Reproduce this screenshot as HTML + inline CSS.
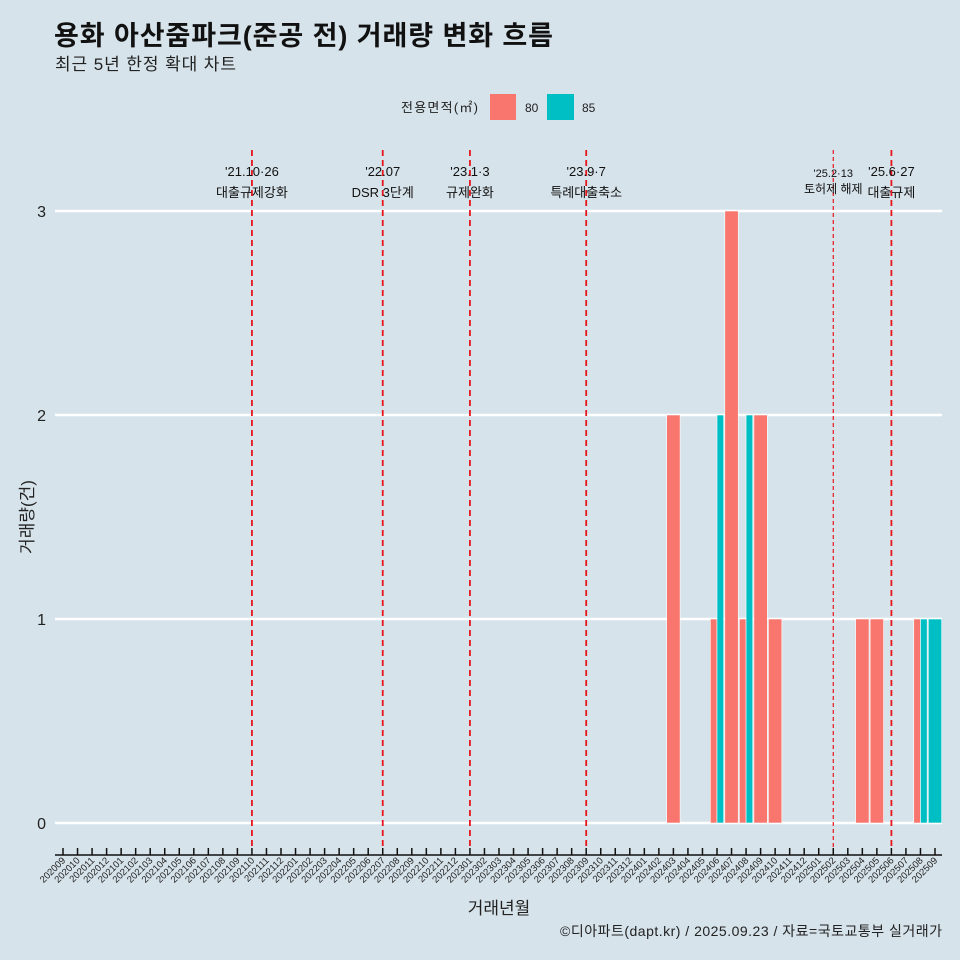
<!DOCTYPE html>
<html><head><meta charset="utf-8"><style>
body{margin:0;background:#d6e3ea;}
svg{display:block;font-family:"Liberation Sans","Noto Sans CJK KR",sans-serif;}
</style></head><body>
<svg id="c" width="960" height="960" viewBox="0 0 960 960">
<rect width="960" height="960" fill="#d6e3ea"/>
<text x="54" y="45" font-size="27" font-weight="bold" fill="#111" textLength="499">용화 아산줌파크(준공 전) 거래량 변화 흐름</text>
<text x="55" y="70" font-size="17" fill="#222" textLength="181">최근 5년 한정 확대 차트</text>
<g>
<text x="401" y="112" font-size="13" fill="#222" textLength="77">전용면적(㎡)</text>
<rect x="490" y="94" width="26" height="26" fill="#f8766d"/>
<text x="525" y="112" font-size="12" fill="#222">80</text>
<rect x="547" y="94" width="27" height="26" fill="#00bfc4"/>
<text x="582" y="112" font-size="12" fill="#222">85</text>
</g>
<g id="grid"></g><g id="bars"></g><g id="events"></g><g id="xaxis"></g>
<text x="499" y="914" font-size="17" text-anchor="middle" fill="#222">거래년월</text>
<text transform="translate(33,517) rotate(-90)" font-size="17" text-anchor="middle" fill="#222">거래량(건)</text>
<text x="942" y="936" font-size="14" text-anchor="end" fill="#222" textLength="382">©디아파트(dapt.kr) / 2025.09.23 / 자료=국토교통부 실거래가</text>
</svg>
<script>
const months=[];for(let y=2020,m=9;y<2025||(y==2025&&m<=9);){months.push(y+String(m).padStart(2,'0'));m++;if(m>12){m=1;y++;}}
const yTicks=[0,1,2,3];
const cat80=['202403','202406','202407','202408','202409','202410','202504','202505','202508'];
const val80=[2,1,3,1,2,1,1,1,1];
const cat85=['202406','202408','202508','202509'];
const val85=[2,2,1,1];
const evMonths=['202110','202207','202301','202309','202502','202506'];
const evDate=["'21.10·26","'22.07","'23.1·3","'23.9·7","'25.2·13","'25.6·27"];
const evText=["대출규제강화","DSR 3단계","규제완화","특례대출축소","토허제 해제","대출규제"];
const NS='http://www.w3.org/2000/svg';
const X0=63,DX=(935-63)/60,BW=13.4;
const xs=c=>X0+months.indexOf(c)*DX;
const ys=v=>823-v*204;
function mk(p,t,a){const e=document.createElementNS(NS,t);for(const k in a)e.setAttribute(k,a[k]);document.getElementById(p).appendChild(e);return e;}
yTicks.forEach(v=>{
 const l=mk('grid','line',{x1:55,x2:942,y1:ys(v),y2:ys(v),stroke:'#fff','stroke-width':2.5});
 
 
 const t=mk('grid','text',{x:46,y:ys(v)+6,'font-size':16,'text-anchor':'end',fill:'#222'});t.textContent=v;
 
 
});
function bar(c,v,ser){
 const both=cat80.includes(c)&&cat85.includes(c);
 const cx=xs(c);let x,w;
 if(both){w=BW/2;x=ser=='80'?cx-w:cx;}else{w=BW;x=cx-w/2;}
 const r=mk('bars','rect',{x:x,y:ys(v),width:w,height:ys(0)-ys(v),fill:ser=='80'?'#f8766d':'#00bfc4',stroke:'#fff','stroke-width':0.6});
 
 
}
cat80.forEach((c,i)=>bar(c,val80[i],'80'));
cat85.forEach((c,i)=>bar(c,val85[i],'85'));
evMonths.forEach((c,i)=>{
 const x=xs(c),thin=c=='202502';
 const l=mk('events','line',{x1:x,x2:x,y1:150,y2:850,stroke:'#e8141c','stroke-width':thin?1.2:1.8,'stroke-dasharray':thin?'4,3':'6,4'});
 
 
 const fs=thin?11:13;
 const t1=mk('events','text',{x:x,y:thin?177:176,'font-size':fs,'text-anchor':'middle',fill:'#111'});t1.textContent=evDate[i];
 
 
 const t2=mk('events','text',{x:x,y:thin?193:197,'font-size':fs+(thin?1:0),'text-anchor':'middle',fill:'#111'});t2.textContent=evText[i];
 
 
});
const ax=mk('xaxis','line',{x1:55,x2:942,y1:855,y2:855,stroke:'#111','stroke-width':1.5});


months.forEach(c=>{
 const x=xs(c);
 const tk=mk('xaxis','line',{x1:x,x2:x,y1:848,y2:855,stroke:'#111','stroke-width':1.5});
 
 
 const t=mk('xaxis','text',{transform:`translate(${x+3},861) rotate(-45)`,'font-size':9.5,'text-anchor':'end',fill:'#222'});t.textContent=c;
 
 
});
</script>
</body></html>
